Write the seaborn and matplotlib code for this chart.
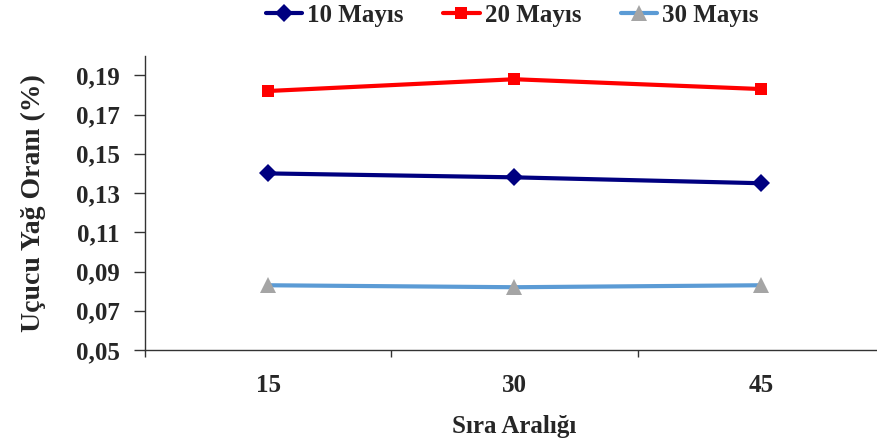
import pandas as pd
import matplotlib.pyplot as plt
import seaborn as sns

# Data
sira_araligi = ['15', '30', '45']
mayis_10 = [0.140, 0.138, 0.135]
mayis_20 = [0.182, 0.188, 0.183]
mayis_30 = [0.083, 0.082, 0.083]
series_names = ['10 Mayıs', '20 Mayıs', '30 Mayıs']
y_ticks = [0.05, 0.07, 0.09, 0.11, 0.13, 0.15, 0.17, 0.19]

df = pd.DataFrame({
    'Sıra Aralığı': sira_araligi * 3,
    'Oran': mayis_10 + mayis_20 + mayis_30,
    'Seri': [s for s in series_names for _ in sira_araligi],
})

sns.set_style('white')
plt.rcParams['font.family'] = ['Liberation Serif', 'DejaVu Serif']
plt.rcParams['font.weight'] = 'bold'

fig = plt.figure(figsize=(8.77, 4.43), dpi=100)
# axis runs a bit past the right edge, like the original
ax = fig.add_axes([0.1653, 0.2099, 0.8427, 0.6644])

line_colors = ['#000080', '#FF0000', '#5B9BD5']
sns.lineplot(data=df, x='Sıra Aralığı', y='Oran', hue='Seri', palette=line_colors,
             style='Seri', markers=['D', 's', '^'], dashes=False, linewidth=3,
             legend=False, ax=ax, sort=False)

# marker tweaks (Excel style)
marker_sizes = [9.5, 8.5, 11]
marker_colors = ['#000080', '#FF0000', '#A5A5A5']
for ln, ms, mc in zip(ax.lines[:3], marker_sizes, marker_colors):
    ln.set_markersize(ms)
    ln.set_markerfacecolor(mc)
    ln.set_markeredgecolor(mc)
    ln.set_markeredgewidth(0)

ax.set_ylim(0.05, 0.20)
ax.set_yticks(y_ticks)
ax.set_yticklabels([f'{v:.2f}'.replace('.', ',') for v in y_ticks])
ax.set_xlim(-0.5, 2.5)

ax.tick_params(axis='x', which='major', length=0, pad=17, labelsize=18)
ax.set_xticks([-0.5, 0.5, 1.5, 2.5], minor=True)
ax.tick_params(axis='x', which='minor', length=5, width=1, color='#333333', direction='out', bottom=True)
ax.tick_params(axis='y', length=8, width=1, color='#333333', direction='out', left=True, pad=10, labelsize=18)

for side in ['top', 'right']:
    ax.spines[side].set_visible(False)
for side in ['left', 'bottom']:
    ax.spines[side].set_color('#333333')
    ax.spines[side].set_linewidth(1)

ax.set_xlabel('Sıra Aralığı', fontsize=18, fontweight='bold', labelpad=13)
ax.set_ylabel('Uçucu Yağ Oranı (%)', fontsize=20, fontweight='bold', labelpad=22)

fig.legend(ax.lines[:3], series_names, loc='center', bbox_to_anchor=(0.584, 0.966),
           ncol=3, frameon=False, handlelength=1.45, handletextpad=0.2,
           columnspacing=1.6, prop={'weight': 'bold', 'size': 18})

fig.savefig('out.png', dpi=100)
